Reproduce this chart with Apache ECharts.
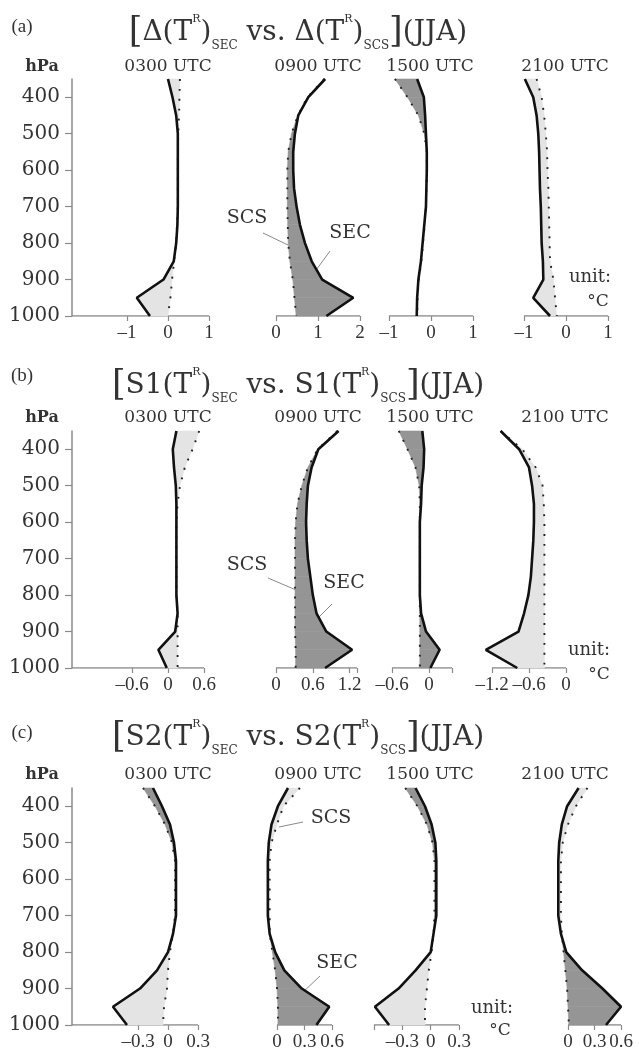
<!DOCTYPE html>
<html><head><meta charset="utf-8">
<script src="https://cdn.jsdelivr.net/npm/echarts@6/dist/echarts.min.js"></script>
<style>html,body{margin:0;padding:0;background:#fff}#c{width:639px;height:1052px}</style>
</head><body><div id="c"></div>
<script>
// ---------------- DATA ----------------
const levels = [350,400,450,500,550,600,650,700,750,800,850,900,950,1000];
const yTicks = [400,500,600,700,800,900,1000];
const times = ['0300 UTC','0900 UTC','1500 UTC','2100 UTC'];
const panelLetters = ['(a)','(b)','(c)'];
const panelNames = ['Δ','S1','S2'];

// (a) Δ(T^R)
const a03_sec = [0.00,0.11,0.20,0.24,0.24,0.24,0.24,0.24,0.23,0.20,0.14,-0.11,-0.76,-0.44];
const a03_scs = [0.29,0.28,0.27,0.25,0.24,0.24,0.24,0.24,0.22,0.20,0.15,0.10,0.06,0.00];
const a09_sec = [1.17,0.77,0.53,0.45,0.41,0.41,0.43,0.49,0.57,0.69,0.85,1.10,1.84,1.20];
const a09_scs = [1.15,0.75,0.52,0.37,0.29,0.27,0.27,0.27,0.28,0.29,0.33,0.40,0.44,0.48];
const a15_sec = [-0.33,-0.17,-0.14,-0.12,-0.10,-0.10,-0.11,-0.12,-0.16,-0.20,-0.24,-0.30,-0.33,-0.34];
const a15_scs = [-0.86,-0.56,-0.30,-0.16,-0.10,-0.10,-0.11,-0.12,-0.15,-0.19,-0.23,-0.29,-0.32,-0.33];
const a21_sec = [-0.98,-0.78,-0.70,-0.66,-0.64,-0.63,-0.62,-0.60,-0.59,-0.58,-0.55,-0.54,-0.78,-0.38];
const a21_scs = [-0.70,-0.58,-0.52,-0.48,-0.45,-0.44,-0.42,-0.41,-0.40,-0.39,-0.38,-0.30,-0.26,-0.22];

// (b) S1(T^R)
const b03_sec = [0.14,0.08,0.10,0.13,0.14,0.14,0.14,0.14,0.14,0.14,0.16,0.12,-0.16,-0.02];
const b03_scs = [0.52,0.41,0.28,0.20,0.16,0.14,0.14,0.14,0.14,0.14,0.16,0.16,0.16,0.16];
const b09_sec = [1.02,0.69,0.58,0.52,0.50,0.49,0.50,0.52,0.56,0.60,0.66,0.82,1.24,0.80];
const b09_scs = [1.00,0.68,0.52,0.42,0.35,0.32,0.31,0.31,0.31,0.31,0.31,0.31,0.32,0.32];
const b15_sec = [-0.11,-0.08,-0.09,-0.12,-0.13,-0.15,-0.15,-0.15,-0.15,-0.15,-0.13,-0.05,0.17,0.02];
const b15_scs = [-0.49,-0.35,-0.22,-0.16,-0.15,-0.15,-0.15,-0.15,-0.15,-0.15,-0.15,-0.15,-0.15,-0.15];
const b21_sec = [-1.06,-0.76,-0.60,-0.55,-0.52,-0.52,-0.53,-0.55,-0.57,-0.61,-0.68,-0.77,-1.30,-0.79];
const b21_scs = [-1.06,-0.71,-0.49,-0.38,-0.36,-0.35,-0.35,-0.35,-0.35,-0.35,-0.35,-0.35,-0.35,-0.35];

// (c) S2(T^R)
const c03_sec = [-0.15,-0.06,0.02,0.06,0.08,0.08,0.08,0.08,0.05,0.00,-0.11,-0.28,-0.55,-0.41];
const c03_scs = [-0.25,-0.13,-0.03,0.04,0.07,0.07,0.07,0.07,0.05,0.02,0.00,-0.01,-0.04,-0.05];
const c09_sec = [0.12,0.01,-0.06,-0.09,-0.10,-0.10,-0.10,-0.10,-0.08,-0.02,0.08,0.27,0.57,0.43];
const c09_scs = [0.25,0.07,0.00,-0.06,-0.08,-0.08,-0.08,-0.08,-0.08,-0.05,-0.02,0.00,0.01,0.01];
const c15_sec = [-0.16,-0.06,0.01,0.05,0.06,0.06,0.06,0.06,0.03,0.00,-0.16,-0.34,-0.59,-0.44];
const c15_scs = [-0.27,-0.14,-0.04,0.02,0.04,0.04,0.04,0.04,0.03,0.01,-0.02,-0.04,-0.06,-0.06];
const c21_sec = [0.12,-0.01,-0.07,-0.10,-0.11,-0.11,-0.11,-0.11,-0.08,-0.02,0.16,0.39,0.60,0.43];
const c21_scs = [0.22,0.09,0.00,-0.06,-0.08,-0.08,-0.08,-0.08,-0.07,-0.05,-0.03,-0.01,0.00,0.01];

// x-axis ranges (drawn axis extent) and tick labels per subplot
const a_range = [[-2.34,1],[0,2],[-1,1],[-1,1]];
const b_range = [[-1.6,0.6],[0,1.32],[-0.6,0.37],[-1.2,0]];
const c_range = [[-0.96,0.3],[0,0.6],[-0.6,0.3],[0,0.6]];
const a_labels = [[-1,0,1],[0,1,2],[-1,0,1],[-1,0,1]];
const b_labels = [[-0.6,0,0.6],[0,0.6,1.2],[-0.6,0],[-1.2,-0.6,0]];
const c_labels = [[-0.3,0,0.3],[0,0.3,0.6],[-0.3,0,0.3],[0,0.3,0.6]];
const a_ticks = [[-1,0,1],[0,1,2],[-1,0,1],[-1,0,1]];
const b_ticks = [[-0.6,0,0.6],[0,0.6,1.2,1.32],[-0.6,0,0.37],[-1.2,-0.6,0]];
const c_ticks = [[-0.3,0,0.3],[0,0.3,0.6],[-0.6,-0.3,0,0.3],[0,0.3,0.6]];

// ---------------- LAYOUT ----------------
const PANEL_TOP = [79, 431, 788];
const PANEL_BOTTOM = [316, 668, 1025];
const TITLE_Y = [33, 386, 738];
const SUB_Y = [66.5, 418, 775];
const LETTER_Y = [27, 376, 733];
const SUB_X = [168, 318, 430, 565];
const COLS = [
  [[72,209],[276,360],[389,473],[524,608]],
  [[72,204],[276,357],[392,452],[492,566]],
  [[72,198],[277,332],[374,459],[568,621]]
];
const DARK = '#959595', LIGHT = '#e4e4e4', AXIS = '#8a8a8a', TXT = '#333';
const SERIF = '"DejaVu Serif", serif';

const SEC = [[a03_sec,a09_sec,a15_sec,a21_sec],[b03_sec,b09_sec,b15_sec,b21_sec],[c03_sec,c09_sec,c15_sec,c21_sec]];
const SCS = [[a03_scs,a09_scs,a15_scs,a21_scs],[b03_scs,b09_scs,b15_scs,b21_scs],[c03_scs,c09_scs,c15_scs,c21_scs]];
const RANGES = [a_range,b_range,c_range];
const LABELS = [a_labels,b_labels,c_labels];
const TICKS = [a_ticks,b_ticks,c_ticks];

function fmt(v){ if (Math.abs(v) < 1e-9) return '0'; return v < 0 ? '–' + String(Math.abs(v)) : String(v); }

function shadeSeries(k, sec, scs) {
  const segs = [];
  for (let i = 0; i < levels.length - 1; i++) segs.push([sec[i], levels[i]]);
  return {
    type: 'custom', xAxisIndex: k, yAxisIndex: k, silent: true, z: 1,
    data: segs, encode: {x: 0, y: 1},
    renderItem: function (params, api) {
      const i = params.dataIndex;
      const p1 = levels[i], p2 = levels[i + 1];
      const a1 = sec[i] - scs[i], a2 = sec[i + 1] - scs[i + 1];
      const C = (x, p) => api.coord([x, p]);
      const col = s => s > 0 ? DARK : LIGHT;
      const children = [];
      const poly = (pts, fill) => children.push({type: 'polygon', shape: {points: pts}, style: {fill: fill, stroke: fill, lineWidth: 0.6}});
      if (a1 * a2 >= 0) {
        const s = a1 + a2;
        if (s !== 0) poly([C(sec[i], p1), C(sec[i + 1], p2), C(scs[i + 1], p2), C(scs[i], p1)], col(s));
      } else {
        const t = a1 / (a1 - a2);
        const pc = p1 + t * (p2 - p1), xc = sec[i] + t * (sec[i + 1] - sec[i]);
        poly([C(sec[i], p1), C(xc, pc), C(scs[i], p1)], col(a1));
        poly([C(xc, pc), C(sec[i + 1], p2), C(scs[i + 1], p2)], col(a2));
      }
      return {type: 'group', children: children};
    }
  };
}

const grids = [], xAxes = [], yAxes = [], series = [];
for (let p = 0; p < 3; p++) {
  for (let c = 0; c < 4; c++) {
    const k = p * 4 + c;
    const [L, R] = COLS[p][c];
    const [r0, r1] = RANGES[p][c];
    const sec = SEC[p][c], scs = SCS[p][c];
    const dmin = Math.min(...sec, ...scs), dmax = Math.max(...sec, ...scs);
    const ppu = (R - L) / (r1 - r0);
    const pad = 0.06 * (r1 - r0);
    const e0 = c === 0 ? r0 : Math.min(r0, dmin) - pad;
    const e1 = Math.max(r1, dmax) + pad;
    const gl = L - (r0 - e0) * ppu, gw = (e1 - e0) * ppu;
    grids.push({left: gl, top: PANEL_TOP[p], width: gw, height: PANEL_BOTTOM[p] - PANEL_TOP[p]});
    xAxes.push({
      gridIndex: k, type: 'value', min: e0, max: e1,
      axisLine: {show: false, onZero: false},
      axisTick: {show: true, length: 5, customValues: TICKS[p][c], lineStyle: {color: AXIS, width: 1.2}},
      axisLabel: {customValues: LABELS[p][c], formatter: fmt, fontFamily: '"Liberation Serif", serif', fontSize: 19, color: TXT, margin: 8},
      splitLine: {show: false}
    });
    yAxes.push({
      gridIndex: k, type: 'value', inverse: true, min: 350, max: 1000, show: c === 0,
      axisLine: {show: true, onZero: false, lineStyle: {color: AXIS, width: 1.5}},
      axisTick: {show: true, length: 7, customValues: yTicks, lineStyle: {color: AXIS, width: 1.2}},
      axisLabel: {customValues: yTicks, formatter: v => String(v), fontFamily: SERIF, fontSize: 20, color: TXT, margin: 12},
      splitLine: {show: false}
    });
    // x-axis base line over the drawn extent only
    series.push({type: 'line', xAxisIndex: k, yAxisIndex: k, z: 0, silent: true, symbol: 'none',
      data: [[r0, 1000], [r1, 1000]], lineStyle: {color: AXIS, width: 1.5}});
    series.push(shadeSeries(k, sec, scs));
    series.push({type: 'line', name: 'SCS', xAxisIndex: k, yAxisIndex: k, z: 2,
      data: levels.map((lv, i) => [scs[i], lv]), symbol: 'none', silent: true,
      lineStyle: {color: '#222', width: 1.9, type: [1.9, 8]}});
    series.push({type: 'line', name: 'SEC', xAxisIndex: k, yAxisIndex: k, z: 3,
      data: levels.map((lv, i) => [sec[i], lv]), symbol: 'none', silent: true,
      lineStyle: {color: '#111', width: 2.6}});
  }
}

const richTitle = {
  m: {fontFamily: SERIF, fontSize: 28, lineHeight: 38, color: TXT},
  br: {fontFamily: SERIF, fontSize: 35, lineHeight: 38, color: TXT},
  sup: {fontFamily: SERIF, fontSize: 11, lineHeight: 25, verticalAlign: 'top', color: TXT},
  sub: {fontFamily: SERIF, fontSize: 12, lineHeight: 21, verticalAlign: 'bottom', color: TXT}
};
function txt(x, y, text, font) {
  return {type: 'text', x: x, y: y, silent: true,
    style: {text: text, font: font, fill: TXT, align: 'center', verticalAlign: 'middle', textAlign: 'center', textVerticalAlign: 'middle'}};
}
function leader(x1, y1, x2, y2) {
  return {type: 'line', silent: true, shape: {x1: x1, y1: y1, x2: x2, y2: y2}, style: {stroke: '#8a8a8a', lineWidth: 1}};
}
const graphics = [];
for (let p = 0; p < 3; p++) {
  graphics.push(txt(22, LETTER_Y[p], panelLetters[p], '19px "Liberation Serif"'));
  const n = panelNames[p];
  const t = '{br|[}{m|' + n + '(T}{sup|R}{m|)}{sub|SEC}{m| vs. ' + n + '(T}{sup|R}{m|)}{sub|SCS}{br|]}{m|(JJA)}';
  graphics.push({type: 'text', x: 298, y: TITLE_Y[p], silent: true,
    style: {text: t, rich: richTitle, font: '28px ' + SERIF, fill: TXT, align: 'center', verticalAlign: 'middle', textAlign: 'center', textVerticalAlign: 'middle'}});
  graphics.push(txt(42, SUB_Y[p], 'hPa', 'bold 16px ' + SERIF));
  for (let c = 0; c < 4; c++) graphics.push(txt(SUB_X[c], SUB_Y[p], times[c], '17px ' + SERIF));
}
// unit labels
graphics.push(txt(590, 277, 'unit:', '18px ' + SERIF), txt(598, 302, '°C', '17px ' + SERIF));
graphics.push(txt(589, 650, 'unit:', '18px ' + SERIF), txt(599, 675, '°C', '17px ' + SERIF));
graphics.push(txt(492, 1008, 'unit:', '18px ' + SERIF), txt(500, 1031, '°C', '17px ' + SERIF));
// annotations
const ANN = '19px ' + SERIF;
graphics.push(txt(247, 218, 'SCS', ANN), leader(263, 233, 288, 245));
graphics.push(txt(350, 233, 'SEC', ANN), leader(330, 251, 311, 277));
graphics.push(txt(247, 565, 'SCS', ANN), leader(268, 578, 296, 590));
graphics.push(txt(344, 583, 'SEC', ANN), leader(332, 604, 314, 622));
graphics.push(txt(331, 818, 'SCS', ANN), leader(303, 822, 279, 827));
graphics.push(txt(337, 963, 'SEC', ANN), leader(320, 976, 302, 993));

const chart = echarts.init(document.getElementById('c'), null, {renderer: 'canvas'});
chart.setOption({
  backgroundColor: '#fff',
  animation: false,
  grid: grids, xAxis: xAxes, yAxis: yAxes, series: series,
  graphic: graphics
});
</script></body></html>
